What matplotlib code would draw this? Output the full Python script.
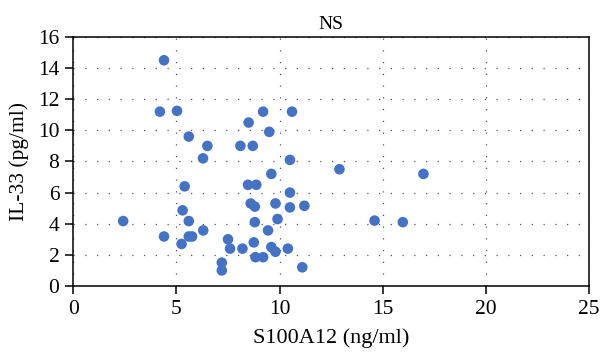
import matplotlib
matplotlib.use("Agg")
import matplotlib.pyplot as plt

# S100A12 (ng/ml) vs IL-33 (pg/ml)
s100a12 = [2.42, 4.4, 4.2, 5.03, 5.6, 6.5, 6.29, 8.1, 8.7, 8.5,
           9.2, 10.6, 9.5, 10.5, 12.9, 16.97, 9.6, 8.47, 8.87, 10.5,
           9.8, 10.5, 11.2, 8.6, 8.8, 8.8, 9.9, 9.44, 14.6, 15.97,
           8.75, 9.6, 9.8, 10.4, 8.83, 9.2, 11.1, 7.5, 7.6, 8.2,
           7.2, 7.2, 5.4, 5.3, 5.6, 6.3, 5.6, 5.76, 5.25, 4.4]
il33 = [4.17, 14.5, 11.2, 11.25, 9.6, 9.0, 8.2, 9.0, 9.0, 10.5,
        11.2, 11.2, 9.9, 8.1, 7.5, 7.2, 7.2, 6.5, 6.5, 6.0,
        5.3, 5.05, 5.15, 5.3, 5.1, 4.1, 4.3, 3.57, 4.2, 4.1,
        2.8, 2.5, 2.2, 2.4, 1.85, 1.85, 1.2, 3.0, 2.4, 2.4,
        1.5, 1.0, 6.4, 4.86, 4.17, 3.57, 3.18, 3.18, 2.7, 3.18]

x_ticks = [0, 5, 10, 15, 20, 25]
y_ticks = [0, 2, 4, 6, 8, 10, 12, 14, 16]

plt.rcParams['font.family'] = ['Liberation Serif', 'DejaVu Serif']

fig = plt.figure(figsize=(6, 3.62), dpi=100)
ax = fig.add_axes([0.122, 0.21, 0.86, 0.688])

ax.scatter(s100a12, il33, s=58, color='#4472C4', edgecolors='none', zorder=3)

ax.set_xlim(0, 25)
ax.set_ylim(0, 16)
ax.set_xticks(x_ticks)
ax.set_yticks(y_ticks)
ax.grid(True, color='#555555', linestyle=(0, (1, 8.4)), linewidth=0.9)

for sp in ax.spines.values():
    sp.set_linewidth(1.1)
    sp.set_color('black')
ax.tick_params(direction='out', length=6, width=1.1, labelsize=15.5,
               top=False, right=False, pad=4)

ax.set_xlabel('S100A12 (ng/ml)', fontsize=16, labelpad=7)
ax.set_ylabel('IL-33 (pg/ml)', fontsize=15.5, labelpad=6)
ax.set_title('NS', fontsize=14, pad=6)

fig.savefig('out.png', dpi=100)
